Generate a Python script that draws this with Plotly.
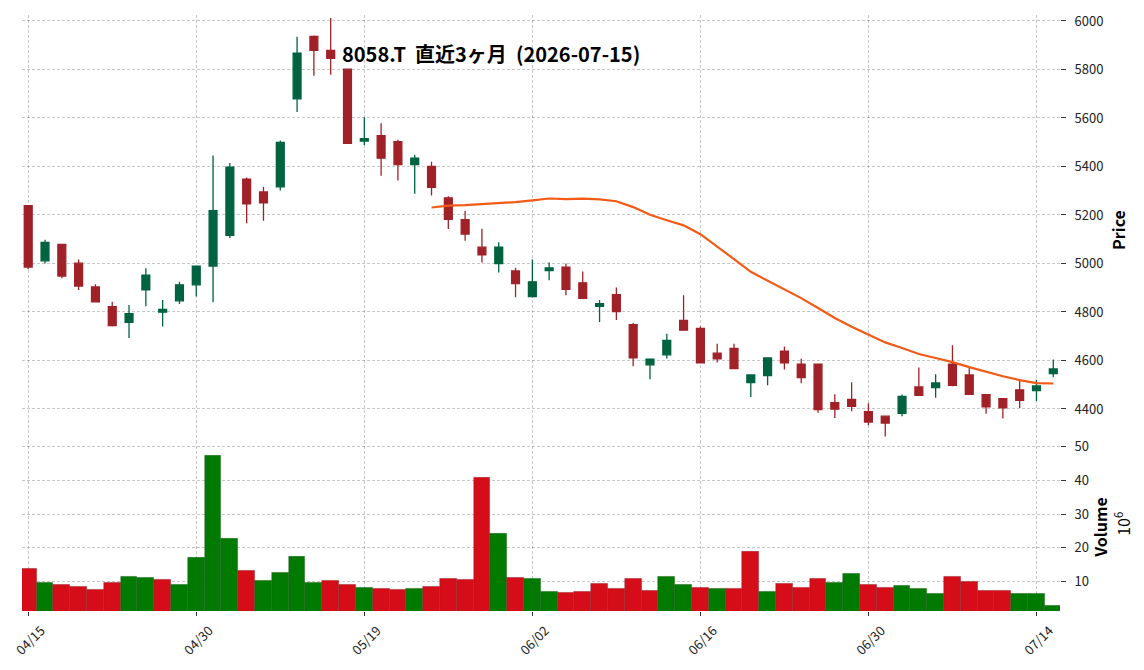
import pandas as pd
import plotly.graph_objects as go
from plotly.subplots import make_subplots

# ---- data ----
dates = ["04/15", "04/16", "04/17", "04/20", "04/21", "04/22", "04/23", "04/24", "04/27", "04/28",
         "04/30", "05/01", "05/07", "05/08", "05/11", "05/12", "05/13", "05/14", "05/15", "05/18",
         "05/19", "05/20", "05/21", "05/22", "05/25", "05/26", "05/27", "05/28", "05/29", "06/01",
         "06/02", "06/03", "06/04", "06/05", "06/08", "06/09", "06/10", "06/11", "06/12", "06/15",
         "06/16", "06/17", "06/18", "06/19", "06/22", "06/23", "06/24", "06/25", "06/26", "06/29",
         "06/30", "07/01", "07/02", "07/03", "07/06", "07/07", "07/08", "07/09", "07/10", "07/13",
         "07/14", "07/15"]

open_ = [5238, 5011, 5079, 5001, 4903, 4822, 4757, 4891, 4799, 4846,
         4912, 4989, 5116, 5348, 5295, 5316, 5679, 5936, 5879, 5801,
         5505, 5527, 5502, 5408, 5400, 5270, 5181, 5067, 4999, 4969,
         4863, 4970, 4985, 4920, 4823, 4871, 4748, 4582, 4623, 4765,
         4732, 4630, 4650, 4509, 4537, 4638, 4585, 4585, 4426, 4439,
         4389, 4370, 4382, 4491, 4488, 4585, 4540, 4459, 4442, 4479,
         4476, 4546]
high = [5238, 5098, 5079, 5016, 4914, 4842, 4829, 4980, 4849, 4925,
        4990, 5445, 5414, 5354, 5316, 5507, 5935, 5940, 6012, 5801,
        5603, 5578, 5510, 5448, 5419, 5277, 5216, 5143, 5087, 4982,
        5016, 5004, 5000, 4967, 4849, 4901, 4754, 4608, 4710, 4869,
        4740, 4669, 4669, 4540, 4612, 4657, 4607, 4585, 4461, 4510,
        4423, 4371, 4460, 4571, 4543, 4663, 4569, 4461, 4443, 4520,
        4520, 4604]
low = [4976, 5000, 4939, 4890, 4842, 4740, 4693, 4823, 4740, 4833,
       4864, 4840, 5105, 5166, 5176, 5301, 5625, 5774, 5778, 5495,
       5487, 5362, 5342, 5287, 5280, 5142, 5094, 5004, 4963, 4861,
       4860, 4931, 4869, 4855, 4759, 4767, 4576, 4522, 4608, 4723,
       4588, 4592, 4566, 4449, 4498, 4563, 4506, 4384, 4363, 4390,
       4333, 4286, 4370, 4454, 4446, 4494, 4458, 4380, 4361, 4404,
       4433, 4531]
close = [4985, 5087, 4948, 4907, 4842, 4744, 4793, 4952, 4810, 4912,
         4989, 5218, 5397, 5246, 5250, 5499, 5867, 5879, 5846, 5495,
         5515, 5434, 5408, 5434, 5314, 5182, 5121, 5035, 5067, 4917,
         4924, 4982, 4893, 4856, 4834, 4801, 4611, 4605, 4683, 4725,
         4590, 4607, 4566, 4540, 4610, 4590, 4529, 4397, 4399, 4411,
         4346, 4342, 4452, 4456, 4507, 4497, 4460, 4409, 4405, 4435,
         4495, 4565]
volume_m = [13.9, 9.5, 8.9, 8.3, 7.4, 9.5, 11.3, 11.0, 10.4, 8.9,
            16.9, 47.2, 22.7, 13.3, 10.1, 12.5, 17.2, 9.5, 10.1, 8.9,
            8.0, 7.7, 7.4, 7.7, 8.3, 10.7, 10.4, 40.7, 24.2, 11.0,
            10.7, 6.9, 6.6, 6.9, 9.2, 7.7, 10.7, 7.2, 11.3, 8.9,
            8.0, 7.7, 7.7, 18.9, 6.9, 9.2, 8.0, 10.7, 9.5, 12.2,
            8.9, 8.0, 8.6, 7.7, 6.3, 11.3, 9.8, 7.2, 7.2, 6.3,
            6.3, 2.7]
mav_window = 25
title_text = "8058.T\u00a0\u00a0直近3ヶ月\u00a0\u00a0(2026-07-15)"

# ---- derived ----
df = pd.DataFrame({"date": dates, "open": open_, "high": high, "low": low,
                   "close": close, "vol": volume_m})
df["i"] = range(len(df))
df["ma"] = df["close"].rolling(mav_window).mean()

UP_C, DN_C = "#006340", "#a02128"
VUP, VDN = "#007a00", "#d50d18"
vcol = []
for k in range(len(df)):
    if k == 0:
        up = df.close[0] >= df.open[0]
    else:
        up = df.close[k] >= df.close[k - 1]
    vcol.append(VUP if up else VDN)

FONT = "Noto Sans CJK JP"
GRID = "rgba(0,0,0,0.22)"

fig = make_subplots(rows=2, cols=1, shared_xaxes=True, vertical_spacing=0,
                    row_heights=[5 / 7, 2 / 7])

fig.add_trace(go.Candlestick(
    x=df["i"], open=df["open"], high=df["high"], low=df["low"], close=df["close"],
    increasing=dict(line=dict(color=UP_C, width=1.3), fillcolor=UP_C),
    decreasing=dict(line=dict(color=DN_C, width=1.3), fillcolor=DN_C),
    whiskerwidth=0, showlegend=False, hoverinfo="skip"), row=1, col=1)

fig.add_trace(go.Scatter(x=df["i"], y=df["ma"], mode="lines",
                         line=dict(color="#f25a16", width=2.2),
                         showlegend=False, hoverinfo="skip"), row=1, col=1)

fig.add_trace(go.Bar(x=df["i"], y=df["vol"], width=1.0,
                     marker=dict(color=vcol, line=dict(color="rgba(0,0,0,0.25)", width=0.7)),
                     showlegend=False, hoverinfo="skip"), row=2, col=1)

tickpos = list(range(0, len(dates), 10))
ticklab = [dates[k] for k in tickpos]
xr = [-0.37, 61.4]

common_x = dict(range=xr, showgrid=True, gridcolor=GRID, griddash="3px,2px", gridwidth=0.8,
                zeroline=False, showline=False, tickvals=tickpos, ticktext=ticklab,
                rangeslider=dict(visible=False))
fig.update_xaxes(**common_x, row=1, col=1, showticklabels=False, ticks="")
fig.update_xaxes(**common_x, row=2, col=1, showticklabels=True, ticks="outside",
                 ticklen=4, tickcolor="#333", tickangle=-45,
                 ticklabeloverflow="allow", ticklabelshift=13, ticklabelstandoff=2,
                 tickfont=dict(family=FONT, size=13, color="#222"))

split = 2 / 7
fig.update_yaxes(row=1, col=1, side="right", range=[4269, 6024.5], domain=[split, 1],
                 tickvals=list(range(4400, 6001, 200)), showgrid=True, gridcolor=GRID,
                 griddash="3px,2px", gridwidth=0.8, zeroline=False, showline=False,
                 ticks="outside", ticklen=5, tickcolor="#333", ticklabelstandoff=6,
                 tickfont=dict(family=FONT, size=13, color="#222"))
fig.update_yaxes(row=2, col=1, side="right", range=[1.18, 51.8], domain=[0, split],
                 tickvals=[10, 20, 30, 40, 50], showgrid=True, gridcolor=GRID,
                 griddash="3px,2px", gridwidth=0.8, zeroline=False, showline=False,
                 ticks="outside", ticklen=5, tickcolor="#333", ticklabelstandoff=6,
                 tickfont=dict(family=FONT, size=13, color="#222"))

fig.update_layout(
    width=1144, height=670, autosize=False,
    margin=dict(l=22, r=84, t=11, b=57),
    paper_bgcolor="white", plot_bgcolor="white",
    boxgap=0.33, bargap=0,
    font=dict(family=FONT, color="#111"),
    annotations=[
        dict(text=title_text, xref="paper", yref="paper", x=0.4518, y=0.935,
             xanchor="center", yanchor="middle", showarrow=False,
             font=dict(family=FONT, size=20, color="black", weight="bold")),
        dict(text="<b>Price</b>", xref="paper", yref="paper", x=1.0559, y=0.6395,
             xanchor="center", yanchor="middle", textangle=-90, showarrow=False,
             font=dict(family=FONT, size=16, color="black")),
        dict(text="<b>Volume</b>", xref="paper", yref="paper", x=1.0385, y=0.1412,
             xanchor="center", yanchor="middle", textangle=-90, showarrow=False,
             font=dict(family=FONT, size=16, color="black")),
        dict(text="10<sup>6</sup>", xref="paper", yref="paper", x=1.0607, y=0.1462,
             xanchor="center", yanchor="middle", textangle=-90, showarrow=False,
             font=dict(family=FONT, size=16, color="black")),
    ],
)

fig.write_html("out.html")
